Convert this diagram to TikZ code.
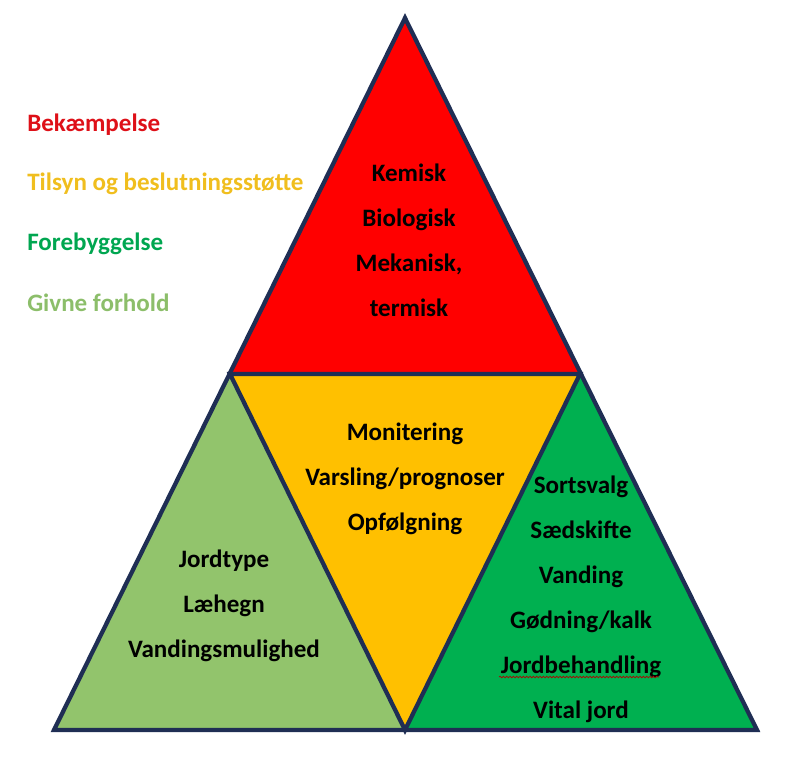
\documentclass[tikz,border=0pt]{standalone}
\usepackage{fontspec}
\setmainfont{Carlito}
\usetikzlibrary{decorations.pathmorphing}
\definecolor{edge}{RGB}{31,46,84}
\definecolor{cred}{RGB}{255,0,0}
\definecolor{cyellow}{RGB}{255,192,0}
\definecolor{cgreen}{RGB}{0,176,80}
\definecolor{clight}{RGB}{146,196,108}
\definecolor{tred}{RGB}{222,16,24}
\definecolor{tyellow}{RGB}{240,190,30}
\definecolor{tgreen}{RGB}{0,166,80}
\definecolor{tlight}{RGB}{140,190,106}
\tikzset{
  tri/.style={draw=edge, line width=3.2pt, line join=miter},
  lbl/.style={font=\bfseries\fontsize{18.8}{33.75}\selectfont, align=center, text=black, inner sep=0pt},
  legend/.style={font=\bfseries\fontsize{18.8}{22}\selectfont, anchor=west, inner sep=0pt}
}
\begin{document}
\begin{tikzpicture}[x=0.75pt,y=-0.75pt]
\useasboundingbox (0,0) rectangle (801,758);
\coordinate (A) at (405,18);
\coordinate (L) at (54,730);
\coordinate (R) at (757,730);
\coordinate (ML) at (230,374);
\coordinate (MR) at (580,374);
\coordinate (MB) at (405,730);
\fill[cred] (A) -- (ML) -- (MR) -- cycle;
\fill[cyellow] (ML) -- (MR) -- (MB) -- cycle;
\fill[clight] (ML) -- (MB) -- (L) -- cycle;
\fill[cgreen] (MR) -- (R) -- (MB) -- cycle;
\draw[tri] (ML) -- (MR) -- (MB) -- cycle;
\draw[tri] (A) -- (L) -- (R) -- cycle;

\node[legend, text=tred] (leg1) at (27,125) {Bekæmpelse};
\node[legend, text=tyellow] (leg2) at (27,184) {Tilsyn og beslutningsstøtte};
\node[legend, text=tgreen] (leg3) at (27,244) {Forebyggelse};
\node[legend, text=tlight] (leg4) at (27,303) {Givne forhold};

\node[lbl] (top) at (409,240) {Kemisk\\Biologisk\\Mekanisk,\\termisk};
\node[lbl] (mid) at (405,479) {Monitering\\Varsling/prognoser\\Opfølgning};
\node[lbl] (left) at (224,606) {Jordtype\\Læhegn\\Vandingsmulighed};
\node[lbl] (right) at (581,599) {Sortsvalg\\Sædskifte\\Vanding\\Gødning/kalk\\Jordbehandling\\Vital jord};
\coordinate (u1) at (499,677);
\coordinate (u2) at (659,677);
\draw[red!70!black, line width=0.5pt, decorate, decoration={snake, amplitude=0.6pt, segment length=2.5pt}] (u1) -- (u2);
\end{tikzpicture}
\end{document}
